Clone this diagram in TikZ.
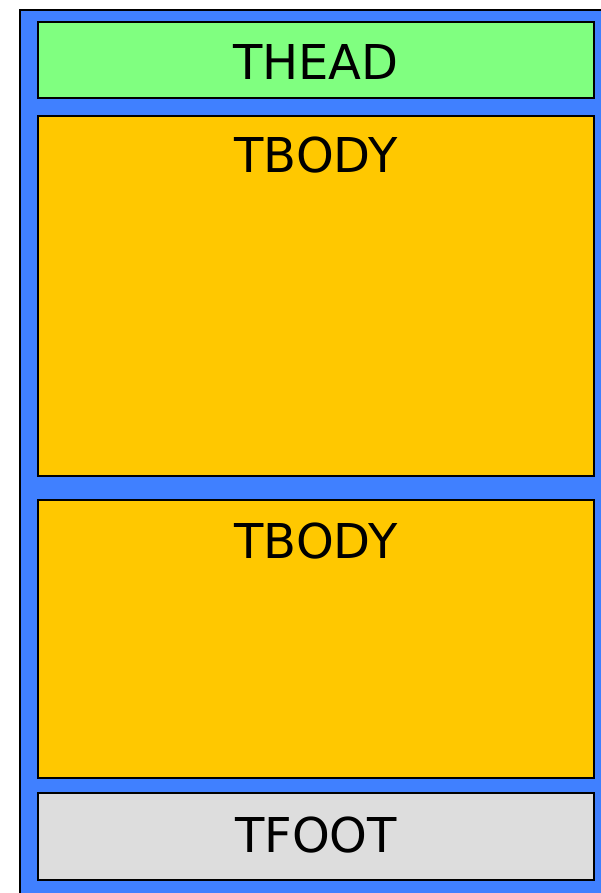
\documentclass[tikz,border=0pt]{standalone}
\usepackage{fontspec}
\setmainfont{DejaVu Sans}
\definecolor{tblblue}{HTML}{4080FF}
\definecolor{headgreen}{HTML}{80FF80}
\definecolor{bodyorange}{HTML}{FFC800}
\definecolor{footgrey}{HTML}{DDDDDD}
\usetikzlibrary{positioning}

\tikzset{
  part/.style={draw,line width=2.4pt,minimum width=556pt,inner sep=0pt},
  parttext/.style={anchor=base,inner sep=0pt,font=\fontsize{48}{58}\selectfont}
}

\begin{document}
\begin{tikzpicture}[x=1pt,y=-1pt]
\useasboundingbox (0,0) rectangle (601,893);
\clip (0,0) rectangle (601,893);
\draw[line width=2.4pt,fill=tblblue] (20,10) rectangle (640,930);
\node[part,fill=headgreen,minimum height=76pt] (thead) at (316,60) {};
\node[parttext] (theadtext) at (316,80) {THEAD};
\node[part,fill=bodyorange,minimum height=360pt] (tbodyA) at (316,296) {};
\node[parttext] (tbodyAtext) at (316,173) {TBODY};
\node[part,fill=bodyorange,minimum height=278pt] (tbodyB) at (316,639) {};
\node[parttext] (tbodyBtext) at (316,558) {TBODY};
\node[part,fill=footgrey,minimum height=87pt] (tfoot) at (316,836.5) {};
\node[parttext] (tfoottext) at (316,852) {TFOOT};
\end{tikzpicture}
\end{document}
